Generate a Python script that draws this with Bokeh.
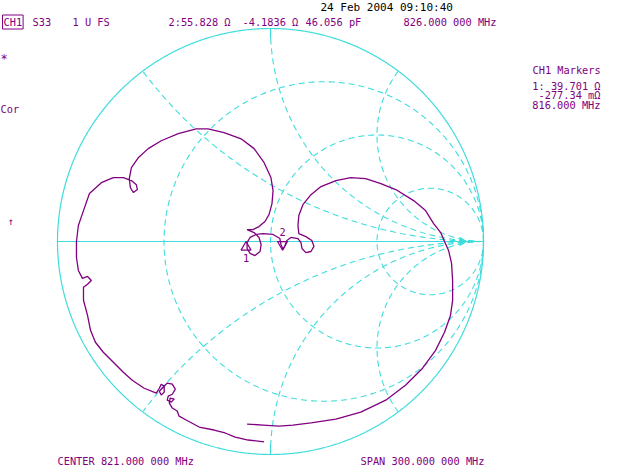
import numpy as np
from bokeh.plotting import figure
from bokeh.models import Range1d, Label
from bokeh.core.properties import value
from bokeh.embed import file_html
from bokeh.resources import INLINE

# ---------------- data ----------------
Z0 = 50.0
R_CIRCLES = [1/3, 1.0, 3.0]          # constant-resistance grid circles
X_ARCS = [0.5, 1.0, 2.0]             # constant-reactance grid arcs (+/-)

# S33 reflection coefficient trace (real / imaginary), 671 - 971 MHz
trace_re = [-0.110, -0.035, 0.040, 0.105, 0.190, 0.307, 0.424, 0.541, 0.635, 0.714,
            0.775, 0.817, 0.845, 0.855, 0.855, 0.850, 0.836, 0.817, 0.799, 0.766,
            0.728, 0.672, 0.588, 0.518, 0.447, 0.377, 0.307, 0.237, 0.190, 0.152,
            0.133, 0.129, 0.133, 0.166, 0.194, 0.204, 0.190, 0.166, 0.148, 0.143,
            0.129, 0.096, 0.077, 0.068, 0.059, 0.049, 0.044, 0.012, -0.035, -0.068,
            -0.096, -0.110, -0.110, -0.096, -0.073, -0.049, -0.044, -0.054, -0.077, -0.110,
            -0.082, -0.054, -0.026, -0.007, 0.007, 0.012, 0.002, -0.030, -0.077, -0.138,
            -0.218, -0.293, -0.349, -0.433, -0.513, -0.574, -0.621, -0.653, -0.663, -0.658,
            -0.644, -0.625, -0.630, -0.653, -0.691, -0.738, -0.794, -0.850, -0.878, -0.902,
            -0.911, -0.911, -0.902, -0.883, -0.859, -0.841, -0.859, -0.878, -0.878, -0.859,
            -0.845, -0.822, -0.785, -0.738, -0.691, -0.649, -0.593, -0.536, -0.522, -0.513,
            -0.499, -0.499, -0.513, -0.522, -0.504, -0.485, -0.461, -0.447, -0.461, -0.480,
            -0.485, -0.466, -0.452, -0.471, -0.475, -0.461, -0.438, -0.429, -0.396, -0.335,
            -0.265, -0.213, -0.166, -0.105, -0.030]
trace_im = [-0.857, -0.862, -0.867, -0.862, -0.852, -0.834, -0.801, -0.745, -0.674, -0.595,
            -0.511, -0.426, -0.347, -0.276, -0.183, -0.103, -0.042, 0.000, 0.042, 0.084,
            0.145, 0.192, 0.244, 0.272, 0.295, 0.300, 0.286, 0.258, 0.220, 0.173,
            0.122, 0.075, 0.037, 0.023, 0.005, -0.023, -0.047, -0.052, -0.033, -0.005,
            0.014, 0.019, 0.005, -0.019, -0.037, -0.014, 0.014, 0.033, 0.037, 0.033,
            0.019, -0.005, -0.033, -0.056, -0.066, -0.047, -0.014, 0.019, 0.042, 0.056,
            0.056, 0.070, 0.094, 0.126, 0.178, 0.239, 0.300, 0.370, 0.436, 0.482,
            0.511, 0.529, 0.529, 0.506, 0.473, 0.436, 0.393, 0.347, 0.295, 0.253,
            0.230, 0.244, 0.267, 0.286, 0.300, 0.300, 0.276, 0.225, 0.145, 0.075,
            0.000, -0.075, -0.136, -0.173, -0.164, -0.183, -0.201, -0.215, -0.276, -0.347,
            -0.417, -0.473, -0.520, -0.567, -0.614, -0.651, -0.689, -0.712, -0.689, -0.670,
            -0.679, -0.707, -0.721, -0.703, -0.684, -0.665, -0.670, -0.693, -0.717, -0.726,
            -0.745, -0.754, -0.740, -0.735, -0.759, -0.782, -0.796, -0.820, -0.838, -0.871,
            -0.885, -0.899, -0.918, -0.932, -0.941]

marker_ids = ["1", "2"]
marker_freq_mhz = [816.0, 826.0]
marker_res = [39.701, 55.828]        # ohm
marker_react = [-0.27734, -4.1836]   # ohm
ref_position = 0.9

header_texts = ["S33", "1 U FS", "2:55.828 \u03a9", "-4.1836 \u03a9", "46.056 pF", "826.000 000 MHz"]
date_text = "24 Feb 2004  09:10:40"
marker_panel = ["1: 39.701 \u03a9", "-277.34 m\u03a9", "816.000 MHz"]
footer_texts = ["CENTER 821.000 000 MHz", "SPAN 300.000 000 MHz"]

# ---------------- style ----------------
CYAN = "#3edcdc"
PURPLE = "#800080"
FONT = "DejaVu Sans Mono"
W, H = 640, 465
CX, CY, RPX = 270.0, 241.0, 213.0    # chart centre / radius in pixels

p = figure(width=W, height=H, output_backend="svg", toolbar_location=None,
           x_axis_location=None, y_axis_location=None, min_border=0,
           x_range=Range1d(-CX / RPX, (W - CX) / RPX),
           y_range=Range1d((CY - H) / RPX, CY / RPX))
p.grid.visible = False
p.outline_line_color = None
p.background_fill_color = "white"

t = np.linspace(0, 2 * np.pi, 1441)

# outer circle and real axis
p.line(np.cos(t), np.sin(t), line_color=CYAN, line_width=1.2)
p.line([-1, 1], [0, 0], line_color=CYAN, line_width=1.2)
tick = 10 / RPX
p.line([0, 0], [1, 1 - tick], line_color=CYAN, line_width=1.2)
p.line([0, 0], [-1, -1 + tick], line_color=CYAN, line_width=1.2)

# resistance circles
for r in R_CIRCLES:
    c, rad = r / (1 + r), 1 / (1 + r)
    p.line(c + rad * np.cos(t), rad * np.sin(t), line_color=CYAN,
           line_width=1.1, line_dash="6 4")

# reactance arcs
for xv in X_ARCS:
    for s in (1, -1):
        c = s / xv
        rad = 1 / xv
        xs = 1 + rad * np.cos(t)
        ys = c + rad * np.sin(t)
        inside = xs ** 2 + ys ** 2 <= 1.0005
        xs = np.where(inside, xs, np.nan)
        ys = np.where(inside, ys, np.nan)
        p.line(xs, ys, line_color=CYAN, line_width=1.1, line_dash="6 4")

# reference position indicator
p.scatter([ref_position], [0], marker="triangle", angle=-np.pi / 2, size=8,
          fill_color=CYAN, line_color=CYAN)

# trace
p.line(trace_re, trace_im, line_color=PURPLE, line_width=1.3)

# markers
zm = np.array(marker_res) + 1j * np.array(marker_react)
gm = (zm - Z0) / (zm + Z0)
off = 5 / RPX
p.scatter([gm[0].real], [gm[0].imag - off], marker="triangle", size=10,
          fill_color=None, line_color=PURPLE, line_width=1.2)
p.scatter([gm[1].real], [gm[1].imag + off], marker="inverted_triangle", size=10,
          fill_color=None, line_color=PURPLE, line_width=1.2)
p.text([gm[0].real], [gm[0].imag], text=[marker_ids[0]], y_offset=16,
       text_align="center", text_baseline="middle", text_color=PURPLE,
       text_font=value(FONT), text_font_size="10.3px")
p.text([gm[1].real], [gm[1].imag], text=[marker_ids[1]], y_offset=-17,
       text_align="center", text_baseline="middle", text_color=PURPLE,
       text_font=value(FONT), text_font_size="10.3px")


def lab(px, py, txt, color=PURPLE, align="left", size="10.3px", **kw):
    p.add_layout(Label(x=px, y=H - py, x_units="screen", y_units="screen", text=txt,
                       text_font=FONT, text_font_size=size, text_color=color,
                       text_align=align, text_baseline="middle", **kw))


lab(2, 21.5, "CH1", border_line_color=PURPLE, border_line_width=1, padding=1)
for xpos, txt in zip([32, 72, 168, 242, 305, 403], header_texts):
    lab(xpos, 21.5, txt)
lab(320, 7, date_text, color="black", size="11px")
lab(532, 69, "CH1 Markers")
for ypos, txt in zip([85, 94.5, 104], marker_panel):
    lab(600, ypos, txt, align="right")
lab(0, 58, "*", size="12px")
lab(0, 108, "Cor")
lab(7, 220, "\u2191")
lab(57, 460, footer_texts[0])
lab(360, 460, footer_texts[1])

open("out.html", "w").write(file_html(p, INLINE))
